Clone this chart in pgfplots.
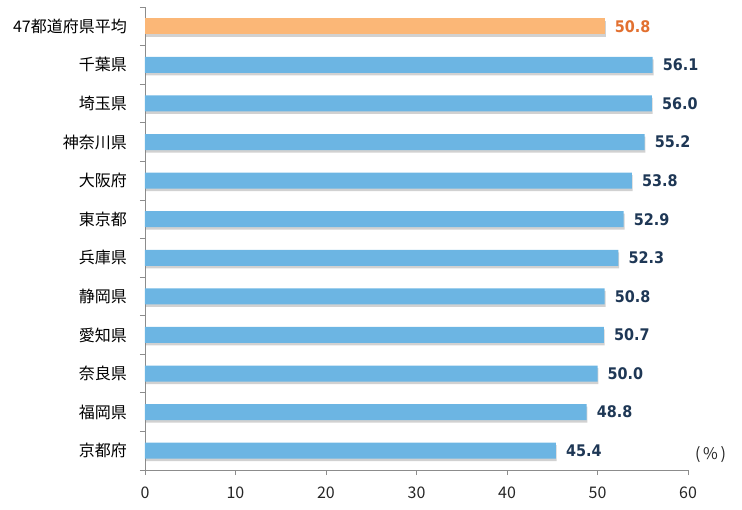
\documentclass[border=0pt]{standalone}
\usepackage{pgfplots}
\pgfplotsset{compat=1.18}
\usepackage{fontspec}
\setmainfont{Noto Sans CJK JP}
\newfontfamily\valfont{DejaVu Sans Condensed}
\definecolor{barblue}{RGB}{108,181,227}
\definecolor{barorange}{RGB}{251,183,119}
\definecolor{valnavy}{RGB}{30,55,85}
\definecolor{valorange}{RGB}{226,112,48}
\definecolor{axgray}{RGB}{140,140,140}
\begin{document}
\begin{tikzpicture}
\begin{axis}[
  scale only axis, width=543pt, height=463pt,
  xmin=0, xmax=60, ymin=-0.5, ymax=11.5, y dir=reverse,
  clip=false,
  xtick={0,10,...,60},
  ytick={0,...,11},
  yticklabels={47都道府県平均,千葉県,埼玉県,神奈川県,大阪府,東京都,兵庫県,静岡県,愛知県,奈良県,福岡県,京都府},
  minor ytick={-0.5,0.5,...,11.5},
  axis x line*=bottom, axis y line*=left,
  axis line style={-, draw=axgray, line width=0.8pt},
  tick align=outside,
  major tick length=5pt, minor tick length=5pt,
  major y tick style={draw=none},
  minor y tick style={draw=axgray, line width=0.8pt},
  major x tick style={draw=axgray, line width=0.8pt},
  /pgf/number format/assume math mode=true,
  yticklabel style={anchor=east, inner sep=0pt, xshift=-13pt, font=\fontsize{16}{16}\selectfont, text=black},
  xticklabel style={anchor=north, inner sep=0pt, yshift=-12pt, font=\fontsize{16}{16}\selectfont, text=black!85},
]
\addplot[xbar, bar width=16pt, bar shift=0pt, fill=barorange, draw=none,
  preaction={fill=black, opacity=0.18, transform canvas={xshift=0.8pt, yshift=-2.5pt}},
  nodes near coords={\pgfmathprintnumber[fixed,fixed zerofill,precision=1,assume math mode=true]{\pgfplotspointmeta}},
  nodes near coords style={anchor=west, inner sep=0pt, xshift=10pt, text=valorange, font=\valfont\bfseries\fontsize{16}{16}\selectfont},
  point meta=x]
  coordinates {(50.8,0)};
\addplot[xbar, bar width=16pt, bar shift=0pt, fill=barblue, draw=none,
  preaction={fill=black, opacity=0.18, transform canvas={xshift=0.8pt, yshift=-2.5pt}},
  nodes near coords={\pgfmathprintnumber[fixed,fixed zerofill,precision=1,assume math mode=true]{\pgfplotspointmeta}},
  nodes near coords style={anchor=west, inner sep=0pt, xshift=10pt, text=valnavy, font=\valfont\bfseries\fontsize{16}{16}\selectfont},
  point meta=x]
  coordinates {(56.1,1) (56.0,2) (55.2,3) (53.8,4) (52.9,5) (52.3,6) (50.8,7) (50.7,8) (50.0,9) (48.8,10) (45.4,11)};
\node[font=\fontsize{16}{16}\selectfont, text=black!85] at (axis cs:62.5,11.1) {(\,\%\,)};
\end{axis}
\path[use as bounding box] ([shift={(-145pt,-39pt)}]current axis.south west) rectangle ++(742pt,509pt);
\end{tikzpicture}
\end{document}
